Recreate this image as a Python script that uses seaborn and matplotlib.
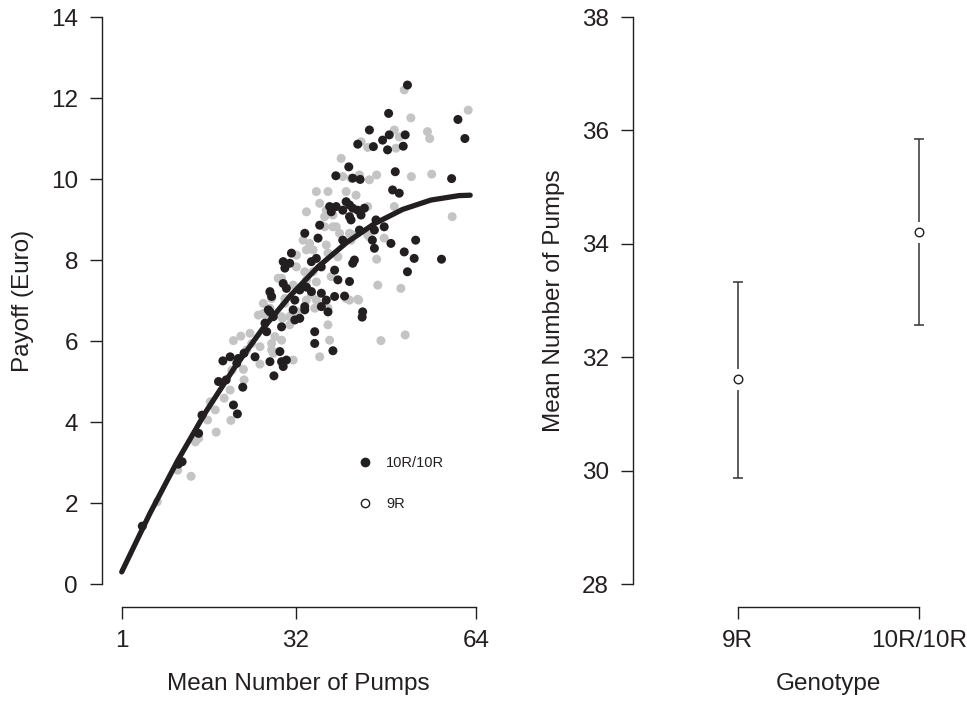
import matplotlib
matplotlib.use("Agg")
import matplotlib.pyplot as plt
import seaborn as sns
import pandas as pd
from matplotlib.lines import Line2D

# 10R/10R carriers: mean pumps vs payoff
pumps_10r = [4.66, 11.74, 11.07, 14.68, 15.28, 20.88, 21.58, 18.22, 19.58, 22.54,
             19.0, 20.29, 21.76, 22.77, 21.47, 28.08, 27.37, 29.14, 29.44, 30.3,
             29.73, 24.72, 27.37, 29.73, 30.03, 27.96, 29.44, 26.79, 31.5, 32.68,
             27.37, 26.49, 31.8, 33.57, 31.8, 35.34, 35.34, 38.58, 43.78, 37.99,
             38.28, 39.16, 40.93, 41.53, 42.1, 40.33, 43.0, 41.53, 41.8, 43.58,
             44.18, 43.3, 33.57, 35.93, 40.33, 31.2, 35.63, 34.75, 36.5, 42.4,
             42.1, 29.73, 30.9, 38.88, 39.46, 41.53, 30.3, 32.68, 34.75, 36.52,
             37.4, 36.52, 33.57, 27.67, 27.08, 38.88, 43.87, 33.87, 51.84, 48.49,
             60.82, 62.06, 45.07, 48.6, 47.42, 51.44, 43.0, 45.78, 48.3, 51.09,
             41.4, 42.1, 43.42, 49.67, 59.7, 39.1, 49.2, 50.38, 46.24, 47.7,
             45.96, 36.22, 45.6, 45.96, 48.9, 53.3, 51.27, 53.04, 57.9, 51.84,
             40.65, 37.7]
payoff_10r = [1.43, 3.02, 2.96, 3.72, 4.17, 4.42, 4.20, 5.00, 5.04, 4.86,
              5.51, 5.61, 5.57, 5.70, 5.45, 5.14, 5.49, 5.74, 5.49, 5.53,
              5.37, 5.61, 7.22, 7.42, 7.80, 6.60, 6.35, 6.23, 6.77, 6.56,
              6.72, 6.44, 6.52, 6.85, 7.01, 6.23, 5.94, 5.76, 6.59, 9.32,
              9.19, 9.32, 9.44, 9.36, 9.28, 9.23, 9.23, 9.07, 8.99, 9.11,
              9.28, 8.74, 8.66, 8.54, 8.49, 8.17, 8.04, 7.96, 7.83, 8.00,
              7.92, 7.96, 7.92, 7.75, 7.51, 7.47, 7.30, 7.26, 7.22, 7.18,
              7.01, 6.85, 6.77, 7.10, 6.77, 7.10, 6.72, 7.33, 12.32, 11.62,
              11.47, 11.00, 11.21, 11.09, 10.96, 11.09, 10.86, 10.80, 10.72, 10.81,
              10.30, 10.02, 9.99, 10.18, 10.01, 10.08, 9.73, 9.65, 8.99, 8.82,
              8.74, 8.86, 8.49, 8.29, 8.41, 8.49, 8.20, 8.04, 8.02, 7.71,
              7.11, 6.72]

# 9R carriers
pumps_9r = [7.32, 13.34, 10.96, 17.81, 20.42, 17.64, 16.75, 16.27, 14.68, 14.1,
            20.29, 19.23, 20.88, 22.19, 22.65, 22.77, 20.6, 23.83, 24.13, 25.6,
            25.6, 25.3, 26.79, 27.67, 29.44, 27.96, 31.5, 30.9, 32.38, 33.85,
            35.34, 34.75, 36.22, 37.69, 37.99, 23.25, 27.67, 27.67, 26.19, 27.37,
            29.6, 30.9, 28.26, 30.0, 29.44, 33.87, 36.22, 37.1, 44.77, 36.52,
            38.58, 39.76, 41.53, 44.77, 33.27, 34.45, 37.4, 32.08, 33.87, 35.04,
            37.7, 39.46, 32.08, 33.57, 35.04, 38.27, 28.84, 30.03, 31.5, 33.87,
            35.63, 37.7, 31.2, 27.37, 26.19, 29.44, 40.95, 43.0, 51.27, 52.45,
            62.65, 55.4, 55.8, 49.5, 50.38, 43.6, 44.77, 49.8, 40.04, 40.33,
            41.8, 43.3, 45.07, 46.36, 52.54, 56.15, 35.63, 37.7, 40.93, 42.7,
            37.4, 49.5, 38.58, 37.1, 39.16, 42.1, 41.8, 47.7, 59.8, 46.36,
            46.56, 50.67, 41.53, 43.17, 36.8, 47.12, 51.44, 45.07, 35.63]
payoff_9r = [2.03, 2.66, 2.81, 3.75, 4.04, 4.30, 4.50, 4.05, 3.60, 3.51,
             4.79, 4.59, 6.01, 6.12, 5.30, 5.04, 5.28, 6.19, 5.94, 5.86,
             5.43, 6.64, 6.52, 7.05, 6.02, 5.70, 5.53, 6.60, 6.72, 7.01,
             6.81, 7.14, 5.61, 6.40, 6.02, 5.78, 5.94, 5.78, 6.93, 6.81,
             6.56, 6.40, 6.11, 6.93, 7.55, 9.19, 9.40, 9.07, 9.32, 8.86,
             8.82, 8.66, 8.66, 8.62, 8.49, 8.41, 8.37, 8.12, 8.25, 8.25,
             8.17, 8.08, 7.83, 7.71, 7.71, 7.59, 7.55, 7.05, 7.38, 7.51,
             7.46, 6.81, 6.64, 7.18, 6.68, 6.60, 7.05, 7.03, 12.20, 11.51,
             11.70, 11.17, 11.00, 11.21, 11.04, 10.92, 10.78, 10.76, 10.51, 10.06,
             10.02, 10.10, 9.98, 10.10, 10.06, 10.12, 9.69, 9.69, 9.69, 9.60,
             9.23, 9.32, 9.11, 8.82, 8.82, 8.62, 8.49, 8.54, 9.07, 8.02,
             7.38, 7.30, 7.01, 7.01, 6.89, 6.01, 6.15, 8.57, 7.01]

# fitted curve
curve_pumps = [1, 6, 11, 16, 21, 26, 31, 36, 41, 46, 51, 56, 61, 63]
curve_payoff = [0.30, 1.74, 3.06, 4.26, 5.33, 6.29, 7.12, 7.84, 8.43, 8.90,
                9.25, 9.48, 9.59, 9.60]

# right panel: mean pumps per genotype with interval
genotypes = ["9R", "10R/10R"]
mean_pumps = [31.61, 34.21]
ci_low = [29.87, 32.56]
ci_high = [33.32, 35.84]

BLACK = "#231f20"
GREY = "#c4c4c4"
FS = 17.5

sns.set_style("ticks")
plt.rcParams["font.family"] = ["Liberation Sans", "DejaVu Sans"]
plt.rcParams["text.color"] = BLACK
plt.rcParams["axes.labelcolor"] = BLACK
plt.rcParams["xtick.color"] = BLACK
plt.rcParams["ytick.color"] = BLACK
plt.rcParams["axes.edgecolor"] = BLACK

df = pd.concat([
    pd.DataFrame({"pumps": pumps_9r, "payoff": payoff_9r, "genotype": "9R"}),
    pd.DataFrame({"pumps": pumps_10r, "payoff": payoff_10r, "genotype": "10R/10R"}),
], ignore_index=True)

fig = plt.figure(figsize=(9.67, 7.01), dpi=100)
ax1 = fig.add_axes([0.1052, 0.1345, 0.4017, 0.8736])
ax2 = fig.add_axes([0.6541, 0.1345, 0.4051, 0.8736])

# --- left panel ---
sns.scatterplot(data=df, x="pumps", y="payoff", hue="genotype",
                palette={"9R": GREY, "10R/10R": BLACK}, s=42, linewidth=0,
                legend=False, ax=ax1, clip_on=False)
sns.lineplot(x=curve_pumps, y=curve_payoff, sort=False, estimator=None,
             color=BLACK, linewidth=3.8, solid_capstyle="round", ax=ax1)

ax1.set_xlim(-2.56, 66.56)
ax1.set_ylim(-0.56, 14.56)
ax1.set_xticks([1, 32, 64])
ax1.set_yticks(range(0, 15, 2))
sns.despine(ax=ax1)
ax1.spines["left"].set_bounds(0, 14)
ax1.spines["bottom"].set_bounds(1, 64)
ax1.set_xlabel("Mean Number of Pumps", fontsize=FS)
ax1.set_ylabel("Payoff (Euro)", fontsize=FS)
ax1.xaxis.set_label_coords(0.505, -0.108)
ax1.yaxis.set_label_coords(-0.174, 0.5)

handles = [
    Line2D([0], [0], marker="o", ls="none", markersize=6,
           markerfacecolor=BLACK, markeredgecolor=BLACK),
    Line2D([0], [0], marker="o", ls="none", markersize=6,
           markerfacecolor="white", markeredgecolor=BLACK, markeredgewidth=1.0),
]
ax1.legend(handles, ["10R/10R", "9R"], loc="upper left",
           bbox_to_anchor=(0.370, 0.3497), bbox_transform=fig.transFigure,
           frameon=False, fontsize=10.5, handlelength=1.0, handletextpad=0.95,
           labelspacing=1.88, borderpad=0, borderaxespad=0)

# --- right panel ---
yerr = [[m - lo for m, lo in zip(mean_pumps, ci_low)],
        [hi - m for m, hi in zip(mean_pumps, ci_high)]]
ax2.errorbar(genotypes, mean_pumps, yerr=yerr, fmt="none", ecolor="#333333",
             elinewidth=1.1, capsize=3.6, capthick=1.1)
sns.scatterplot(x=genotypes, y=mean_pumps, s=230, color="white", linewidth=0,
                ax=ax2, zorder=3)
sns.scatterplot(x=genotypes, y=mean_pumps, s=38, color="white", edgecolor=BLACK,
                linewidth=1.0, ax=ax2, zorder=4)

ax2.set_xlim(-0.58, 1.58)
ax2.set_ylim(27.6, 38.4)
ax2.set_yticks(range(28, 39, 2))
sns.despine(ax=ax2)
ax2.spines["left"].set_bounds(28, 38)
ax2.spines["bottom"].set_bounds(0, 1)
ax2.set_xlabel("Genotype", fontsize=FS)
ax2.set_ylabel("Mean Number of Pumps", fontsize=FS)
ax2.xaxis.set_label_coords(0.499, -0.108)
ax2.yaxis.set_label_coords(-0.172, 0.5)

for ax in (ax1, ax2):
    ax.tick_params(length=8.4, width=1.0, pad=8.6, labelsize=FS)
    for side in ("left", "bottom"):
        ax.spines[side].set_linewidth(1.0)

fig.savefig("out.png", dpi=100)
